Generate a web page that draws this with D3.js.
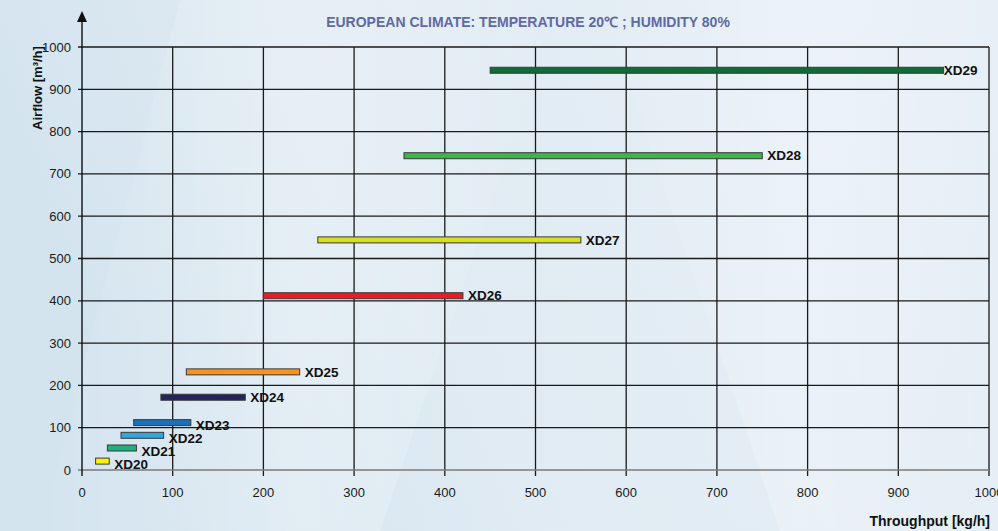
<!DOCTYPE html>
<html>
<head>
<meta charset="utf-8">
<script src="https://cdn.jsdelivr.net/npm/d3@7"></script>
<style>
  body { margin: 0; overflow: hidden; }
  svg { display: block; font-family: Arial, 'Liberation Sans', sans-serif; }
</style>
</head>
<body>
<div id="chart"></div>
<script>
const width = 998
const height = 531
const margin = { top: 47, right: 9, bottom: 61, left: 82 }

// data
const models = ['XD20', 'XD21', 'XD22', 'XD23', 'XD24', 'XD25', 'XD26', 'XD27', 'XD28', 'XD29']
const throughputMin = [15, 28, 43, 57, 87, 115, 200, 260, 355, 450]
const throughputMax = [30, 60, 90, 120, 180, 240, 420, 550, 750, 950]
const airflow = [21, 52, 82, 112, 172, 232, 412, 544, 743, 945]
const colors = ['#fff200', '#1fae7f', '#2fa6de', '#1f6fb8', '#24235e', '#f7931e', '#ed1c24', '#d7df23', '#3db54a', '#0f6b37']
const ticks = [0, 100, 200, 300, 400, 500, 600, 700, 800, 900, 1000]

const svg = d3.select('#chart').append('svg')
  .attr('width', width)
  .attr('height', height)

// background
const defs = svg.append('defs')
const bg = defs.append('linearGradient').attr('id', 'bg')
  .attr('x1', 0).attr('y1', 0.2).attr('x2', 1).attr('y2', 0)
bg.append('stop').attr('offset', 0).attr('stop-color', '#d4e4ef')
bg.append('stop').attr('offset', 0.35).attr('stop-color', '#e0ebf3')
bg.append('stop').attr('offset', 1).attr('stop-color', '#e8f0f7')

const streak = defs.append('linearGradient').attr('id', 'streak')
  .attr('x1', 0).attr('y1', 0).attr('x2', 1).attr('y2', 0)
streak.append('stop').attr('offset', 0).attr('stop-color', '#fff').attr('stop-opacity', 0)
streak.append('stop').attr('offset', 0.5).attr('stop-color', '#fff').attr('stop-opacity', 0.25)
streak.append('stop').attr('offset', 1).attr('stop-color', '#fff').attr('stop-opacity', 0)

svg.append('rect').attr('width', width).attr('height', height).attr('fill', 'url(#bg)')
svg.append('path')
  .attr('d', 'M180,0 L560,0 L380,531 L40,531 Z')
  .attr('fill', 'url(#streak)')
svg.append('path')
  .attr('d', 'M600,0 L998,0 L998,531 L780,531 Z')
  .attr('fill', 'url(#streak)')

const x = d3.scaleLinear().domain([0, 1000]).range([margin.left, width - margin.right])
const y = d3.scaleLinear().domain([0, 1000]).range([height - margin.bottom, margin.top])

// grid
svg.append('g')
  .selectAll('line')
  .data(ticks.filter(d => d > 0))
  .join('line')
  .attr('x1', margin.left - 4)
  .attr('x2', x(1000))
  .attr('y1', d => y(d))
  .attr('y2', d => y(d))
  .attr('stroke', '#1a1a1a')
  .attr('stroke-width', 1.3)

svg.append('g')
  .selectAll('line')
  .data(ticks.filter(d => d > 0))
  .join('line')
  .attr('x1', d => x(d))
  .attr('x2', d => x(d))
  .attr('y1', y(1000))
  .attr('y2', y(0) + 6)
  .attr('stroke', '#1a1a1a')
  .attr('stroke-width', 1.3)

// x axis line (grey)
svg.append('line')
  .attr('x1', margin.left - 4)
  .attr('x2', x(1000))
  .attr('y1', y(0))
  .attr('y2', y(0))
  .attr('stroke', '#7a7a7a')
  .attr('stroke-width', 1.6)

// y axis with arrow
svg.append('line')
  .attr('x1', x(0)).attr('x2', x(0))
  .attr('y1', y(0) + 6).attr('y2', 20)
  .attr('stroke', '#111').attr('stroke-width', 1.4)
svg.append('path')
  .attr('d', `M${x(0)},11 L${x(0) - 5},22 L${x(0) + 5},22 Z`)
  .attr('fill', '#111')

// tick labels
svg.append('g')
  .selectAll('text')
  .data(ticks)
  .join('text')
  .attr('x', margin.left - 11)
  .attr('y', d => y(d))
  .attr('dy', '0.35em')
  .attr('text-anchor', 'end')
  .attr('font-size', 13)
  .attr('fill', '#1a1a1a')
  .text(d => d)

svg.append('g')
  .selectAll('text')
  .data(ticks)
  .join('text')
  .attr('x', d => x(d))
  .attr('y', y(0) + 22)
  .attr('dy', '0.35em')
  .attr('text-anchor', 'middle')
  .attr('font-size', 13)
  .attr('fill', '#1a1a1a')
  .text(d => d)

// bars
svg.append('g')
  .selectAll('rect')
  .data(models)
  .join('rect')
  .attr('x', (d, i) => x(throughputMin[i]))
  .attr('y', (d, i) => y(airflow[i]) - 3)
  .attr('width', (d, i) => x(throughputMax[i]) - x(throughputMin[i]))
  .attr('height', 6)
  .attr('fill', (d, i) => colors[i])
  .attr('stroke', '#3a3a3a')
  .attr('stroke-width', 1)

svg.append('g')
  .selectAll('text')
  .data(models)
  .join('text')
  .attr('x', (d, i) => x(throughputMax[i]) + (i === 9 ? 0 : 5))
  .attr('y', (d, i) => y(airflow[i]) + (airflow[i] < 150 ? 3 : 0))
  .attr('dy', '0.35em')
  .attr('font-size', 13.5)
  .attr('font-weight', 'bold')
  .attr('fill', '#111')
  .text(d => d)

// titles
svg.append('text')
  .attr('x', 528)
  .attr('y', 22)
  .attr('dy', '0.35em')
  .attr('text-anchor', 'middle')
  .attr('font-size', 14)
  .attr('font-weight', 'bold')
  .attr('fill', '#6169a3')
  .text('EUROPEAN CLIMATE: TEMPERATURE 20℃ ; HUMIDITY 80%')

svg.append('text')
  .attr('transform', 'translate(37,88) rotate(-90)')
  .attr('dy', '0.35em')
  .attr('text-anchor', 'middle')
  .attr('font-size', 13)
  .attr('font-weight', 'bold')
  .attr('fill', '#111')
  .text('Airflow [m³/h]')

svg.append('text')
  .attr('x', 990)
  .attr('y', 521)
  .attr('dy', '0.35em')
  .attr('text-anchor', 'end')
  .attr('font-size', 14)
  .attr('font-weight', 'bold')
  .attr('fill', '#111')
  .text('Throughput [kg/h]')
</script>
</body>
</html>
